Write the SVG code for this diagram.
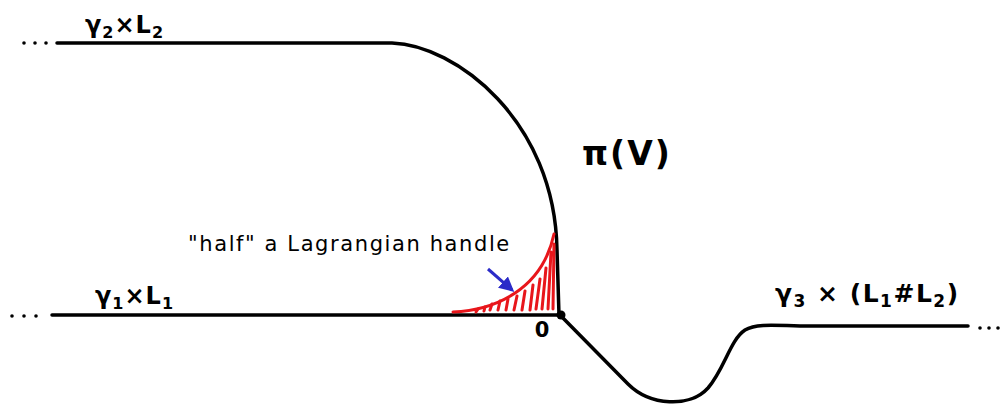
<svg xmlns="http://www.w3.org/2000/svg" width="1001" height="409" viewBox="0 0 1001 409">
<style>
.curve{fill:none;stroke:#000;stroke-width:3.5;stroke-linecap:round;stroke-linejoin:round}
.dot{fill:#000}
.lbl{font-family:"DejaVu Sans",sans-serif;font-weight:bold;fill:#000}
.note{font-family:"DejaVu Sans",sans-serif;fill:#000}
.hatch{stroke:#e8161b;stroke-width:3;stroke-linecap:round;fill:none}
</style>
<defs>
<marker id="ah" viewBox="0 0 10 10" refX="8" refY="5" markerWidth="5" markerHeight="5" orient="auto"><path d="M0,0 L10,5 L0,10 z" fill="#2b2bc8"/></marker>
</defs>
<g id="connectors">
<path class="curve" d="M57,43 L392,43 C455,45 555,120 557,250 L559,315"/>
<circle class="dot" cx="24" cy="43" r="1.8"/><circle class="dot" cx="35" cy="43" r="1.8"/><circle class="dot" cx="46" cy="43" r="1.8"/>
<path class="curve" d="M52,315 L560,315"/>
<circle class="dot" cx="12" cy="316" r="1.8"/><circle class="dot" cx="24" cy="316" r="1.8"/><circle class="dot" cx="36" cy="316" r="1.8"/>
<path class="curve" d="M560,315 L628,384 C650,406 690,408 708,388 C725,368 730,340 745,330 C755,324 770,325 800,326 L968,326"/>
<circle class="dot" cx="980" cy="328" r="1.8"/><circle class="dot" cx="989" cy="328" r="1.8"/><circle class="dot" cx="998" cy="328" r="1.8"/>
</g>
<g id="origin">
<circle cx="561" cy="315" r="4.5" fill="#000"/>
<text class="lbl" x="542" y="337" font-size="21" text-anchor="middle">0</text>
</g>
<g id="handle">
<path class="hatch" d="M453,312 C495,310 542,290 554,234"/>
<path class="hatch" d="M490,310 L492,304 M498,310 L500,301 M506,310 L508,299 M514,310 L517,296 M522,310 L525,291 M530,310 L533,285 M536,309 L540,279 M542,309 L546,268 M548,309 L551,252 M553,309 L554,244 M484,311 L485,307 M476,312 L478,309"/>
<text class="note" x="188" y="251" font-size="21" letter-spacing="1.6">"half" a Lagrangian handle</text>
<path d="M488,269 L512,290" stroke="#2b2bc8" stroke-width="3" marker-end="url(#ah)"/>
</g>
<g id="labels">
<text class="lbl" x="85" y="33" font-size="24" letter-spacing="1">γ<tspan font-size="16" dy="5">2</tspan><tspan dy="-5">×L</tspan><tspan font-size="16" dy="5">2</tspan></text>
<text class="lbl" x="95" y="304" font-size="24" letter-spacing="1">γ<tspan font-size="16" dy="5">1</tspan><tspan dy="-5">×L</tspan><tspan font-size="16" dy="5">1</tspan></text>
<text class="lbl" x="582" y="165" font-size="33" letter-spacing="2">π(V)</text>
<text class="lbl" x="775" y="302" font-size="25" letter-spacing="1.5">γ<tspan font-size="17" dy="5">3</tspan><tspan dy="-5"> × (L</tspan><tspan font-size="17" dy="5">1</tspan><tspan dy="-5">#L</tspan><tspan font-size="17" dy="5">2</tspan><tspan dy="-5">)</tspan></text>
</g>
</svg>
